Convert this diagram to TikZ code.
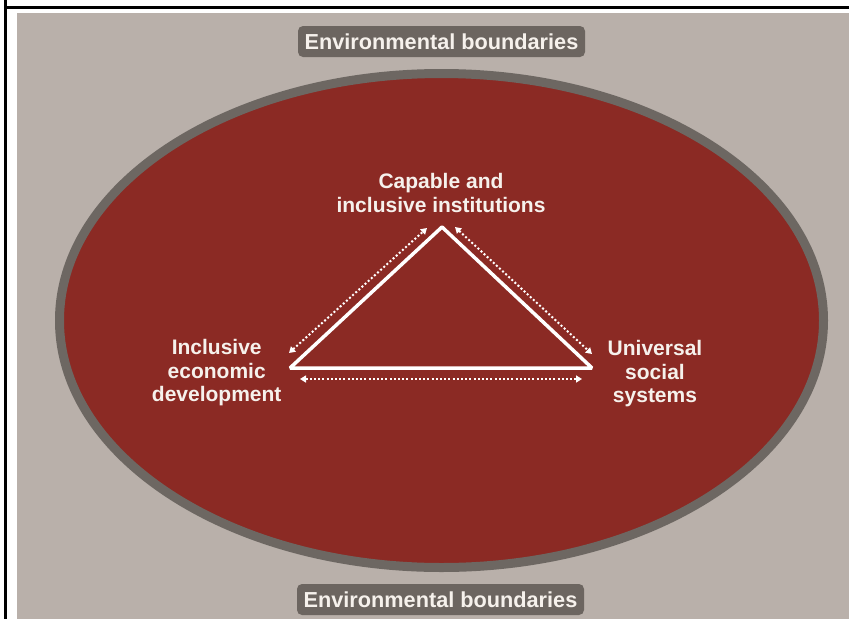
\documentclass[tikz,border=0pt]{standalone}
\usepackage{fontspec}
\setmainfont{Liberation Sans}
\usetikzlibrary{arrows.meta}
\definecolor{bggray}{RGB}{185,176,170}
\definecolor{ringgray}{RGB}{109,103,98}
\definecolor{darkred}{RGB}{139,42,36}
\definecolor{labelgray}{RGB}{108,101,96}
\definecolor{textwhite}{RGB}{246,241,236}
\tikzset{
  envlabel/.style={fill=labelgray, text=textwhite, rounded corners=5pt,
    minimum width=287pt, minimum height=31pt, inner sep=0pt,
    font=\bfseries\fontsize{21.7}{24}\selectfont},
  pillar/.style={text=textwhite, align=center, inner sep=0pt,
    font=\bfseries\fontsize{21}{23.5}\selectfont},
  triline/.style={draw=white, line width=3.5pt, line join=bevel},
  linkarrow/.style={draw=white, line width=2pt, dash pattern=on 2pt off 2.2pt,
    {Triangle[length=6pt,width=7pt]}-{Triangle[length=6pt,width=7pt]}},
  frameline/.style={draw=black, line width=2.2pt}
}
\begin{document}
\begin{tikzpicture}[x=1pt,y=-1pt]
\useasboundingbox (0,0) rectangle (849,619);
\fill[white] (0,0) rectangle (849,619);
\fill[bggray] (17,13) rectangle (849,619);
\coordinate (f1) at (5.5,0);
\coordinate (f2) at (5.5,619);
\coordinate (f3) at (5.5,7.5);
\coordinate (f4) at (849,7.5);
\draw[frameline] (f1) -- (f2);
\draw[frameline] (f3) -- (f4);
% ellipse
\draw[ringgray, fill=darkred, line width=9pt] (441.5,320.5) ellipse [x radius=382pt, y radius=247pt];
% labels
\node[envlabel] (envtop) at (441.5,41.5) {Environmental boundaries};
\node[envlabel] (envbot) at (440.5,599.5) {Environmental boundaries};
\node[pillar] (inst) at (441,193) {Capable and\\inclusive institutions};
\node[pillar] (econ) at (216.7,373) {Inclusive\\economic\\development};
\node[pillar] (social) at (655,374) {Universal\\social\\systems};
% triangle
\coordinate (A) at (442,227);
\coordinate (L) at (290,368);
\coordinate (R) at (592,368);
\draw[triline] (L) -- (A) -- (R) -- cycle;
% dotted arrows
\coordinate (la) at (289,353);
\coordinate (lb) at (427,228);
\coordinate (ra) at (455,227);
\coordinate (rb) at (592,354);
\coordinate (ba) at (300,379);
\coordinate (bb) at (582,379);
\draw[linkarrow] (la) -- (lb);
\draw[linkarrow] (ra) -- (rb);
\draw[linkarrow] (ba) -- (bb);
\end{tikzpicture}
\end{document}
